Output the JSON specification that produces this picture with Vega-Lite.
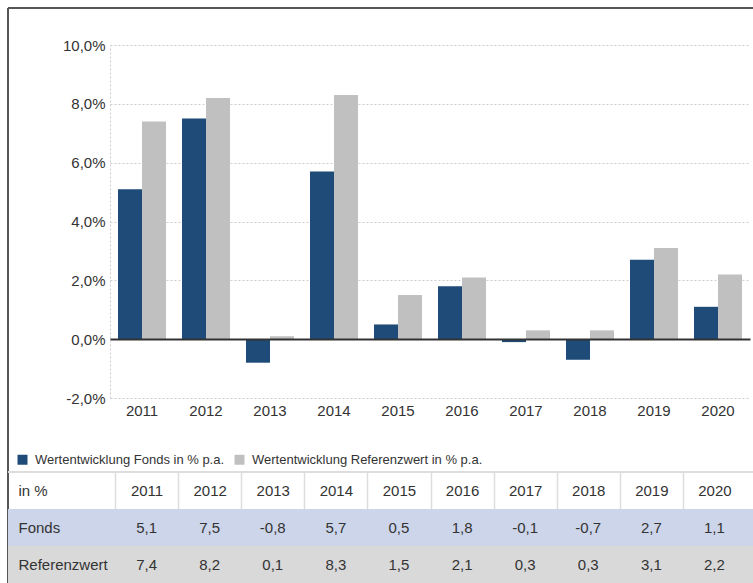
{
  "$schema": "https://vega.github.io/schema/vega-lite/v6.json",
  "width": 745,
  "height": 575,
  "padding": {"left": 8, "top": 8, "right": 0, "bottom": 0},
  "autosize": {"type": "none"},
  "background": "white",
  "config": {
    "view": {"stroke": "#555555", "strokeWidth": 2, "strokeDash": [745, 1320, 575, 0]},
    "font": "Liberation Sans",
    "locale": {"number": {"decimal": ",", "thousands": ".", "grouping": [3], "currency": ["", " €"], "minus": "-"}},
    "axis": {"labelFont": "Liberation Sans", "labelColor": "#333333", "title": null},
    "legend": {"labelFont": "Liberation Sans"}
  },
  "datasets": {
    "perf": [
      {"year": "2011", "series": "Fonds", "value": 5.1},
      {"year": "2011", "series": "Referenzwert", "value": 7.4},
      {"year": "2012", "series": "Fonds", "value": 7.5},
      {"year": "2012", "series": "Referenzwert", "value": 8.2},
      {"year": "2013", "series": "Fonds", "value": -0.8},
      {"year": "2013", "series": "Referenzwert", "value": 0.1},
      {"year": "2014", "series": "Fonds", "value": 5.7},
      {"year": "2014", "series": "Referenzwert", "value": 8.3},
      {"year": "2015", "series": "Fonds", "value": 0.5},
      {"year": "2015", "series": "Referenzwert", "value": 1.5},
      {"year": "2016", "series": "Fonds", "value": 1.8},
      {"year": "2016", "series": "Referenzwert", "value": 2.1},
      {"year": "2017", "series": "Fonds", "value": -0.1},
      {"year": "2017", "series": "Referenzwert", "value": 0.3},
      {"year": "2018", "series": "Fonds", "value": -0.7},
      {"year": "2018", "series": "Referenzwert", "value": 0.3},
      {"year": "2019", "series": "Fonds", "value": 2.7},
      {"year": "2019", "series": "Referenzwert", "value": 3.1},
      {"year": "2020", "series": "Fonds", "value": 1.1},
      {"year": "2020", "series": "Referenzwert", "value": 2.2}
    ],
    "bodyrows": [{"series": "Fonds"}, {"series": "Referenzwert"}],
    "headrow": [{"series": "in %"}]
  },
  "layer": [
    {
      "data": {"name": "perf"},
      "mark": {"type": "bar"},
      "encoding": {
        "x": {
          "field": "year", "type": "nominal",
          "scale": {"range": [102, 742], "paddingInner": 0.25, "paddingOuter": 0.125},
          "axis": {"orient": "bottom", "offset": -244, "domainColor": "#333333", "domainWidth": 2, "ticks": false, "tickSize": 0, "labelPadding": 64, "labelFontSize": 15, "labelAngle": 0, "grid": false, "title": null, "zindex": 1}
        },
        "xOffset": {"field": "series", "type": "nominal", "sort": ["Fonds", "Referenzwert"], "scale": {"paddingInner": 0, "paddingOuter": 0}},
        "y": {
          "field": "value", "type": "quantitative",
          "scale": {"domain": [-2, 10], "range": [390, 37], "nice": false, "zero": false},
          "axis": {"orient": "left", "offset": -102, "values": [-2, 0, 2, 4, 6, 8, 10], "format": ".1f", "labelExpr": "datum.label + '%'", "labelPadding": 5, "ticks": false, "tickSize": 0, "labelFontSize": 15, "domain": true, "domainColor": "#cccccc", "domainDash": [2, 2], "domainWidth": 1, "grid": true, "gridColor": "#cccccc", "gridDash": [2, 2], "gridWidth": 1, "title": null}
        },
        "color": {
          "field": "series", "type": "nominal",
          "scale": {"domain": ["Fonds", "Referenzwert"], "range": ["#1f4b79", "#c0c0c0"]},
          "legend": {"orient": "none", "legendX": 8, "legendY": 445, "direction": "horizontal", "title": null, "symbolType": "square", "symbolSize": 100, "symbolStrokeWidth": 0, "labelFontSize": 13, "labelColor": "#333333", "labelLimit": 400, "labelOffset": 6, "columnPadding": 8, "labelExpr": "'Wertentwicklung ' + datum.label + ' in % p.a.'"}
        }
      }
    },
    {
      "layer": [
        {
          "data": {"name": "bodyrows"},
          "mark": {"type": "rect"},
          "encoding": {
            "y": {
              "field": "series", "type": "nominal",
              "scale": {"domain": ["in %", "Fonds", "Referenzwert"], "range": [464, 575], "paddingInner": 0, "paddingOuter": 0},
              "axis": {"orient": "left", "offset": 0, "labelAlign": "left", "labelBaseline": "middle", "labelPadding": -10, "ticks": false, "tickSize": 0, "domain": false, "grid": false, "labelFontSize": 15, "title": null, "zindex": 1}
            },
            "fill": {"condition": {"test": "datum.series === 'Fonds'", "value": "#cdd5ea"}, "value": "#d9d9d9"}
          }
        },
        {
          "data": {"name": "headrow"},
          "mark": {"type": "rule", "color": "#dddddd", "strokeWidth": 2},
          "encoding": {
            "y": {"field": "series", "type": "nominal", "bandPosition": 0}
          }
        },
        {
          "data": {"name": "perf"},
          "mark": {"type": "text", "fontSize": 15, "color": "#333333", "font": "Liberation Sans"},
          "encoding": {
            "x": {
              "field": "year", "type": "nominal",
              "scale": {"range": [107, 738], "paddingInner": 0, "paddingOuter": 0},
              "axis": {"orient": "top", "offset": -482.5, "labelBaseline": "middle", "labelPadding": 0, "ticks": false, "tickSize": 0, "domain": false, "grid": true, "tickBand": "extent", "gridColor": "#dddddd", "gridWidth": 1.5, "gridOpacity": {"condition": {"test": "datum.value === '2020' && !datum.extra", "value": 0}, "value": 1}, "labelFontSize": 15, "labelAngle": 0, "title": null}
            },
            "y": {"field": "series", "type": "nominal"},
            "text": {"field": "value", "type": "quantitative", "format": ".1f"}
          }
        }
      ]
    }
  ],
  "resolve": {"scale": {"x": "independent", "y": "independent"}, "axis": {"x": "independent", "y": "independent"}}
}
